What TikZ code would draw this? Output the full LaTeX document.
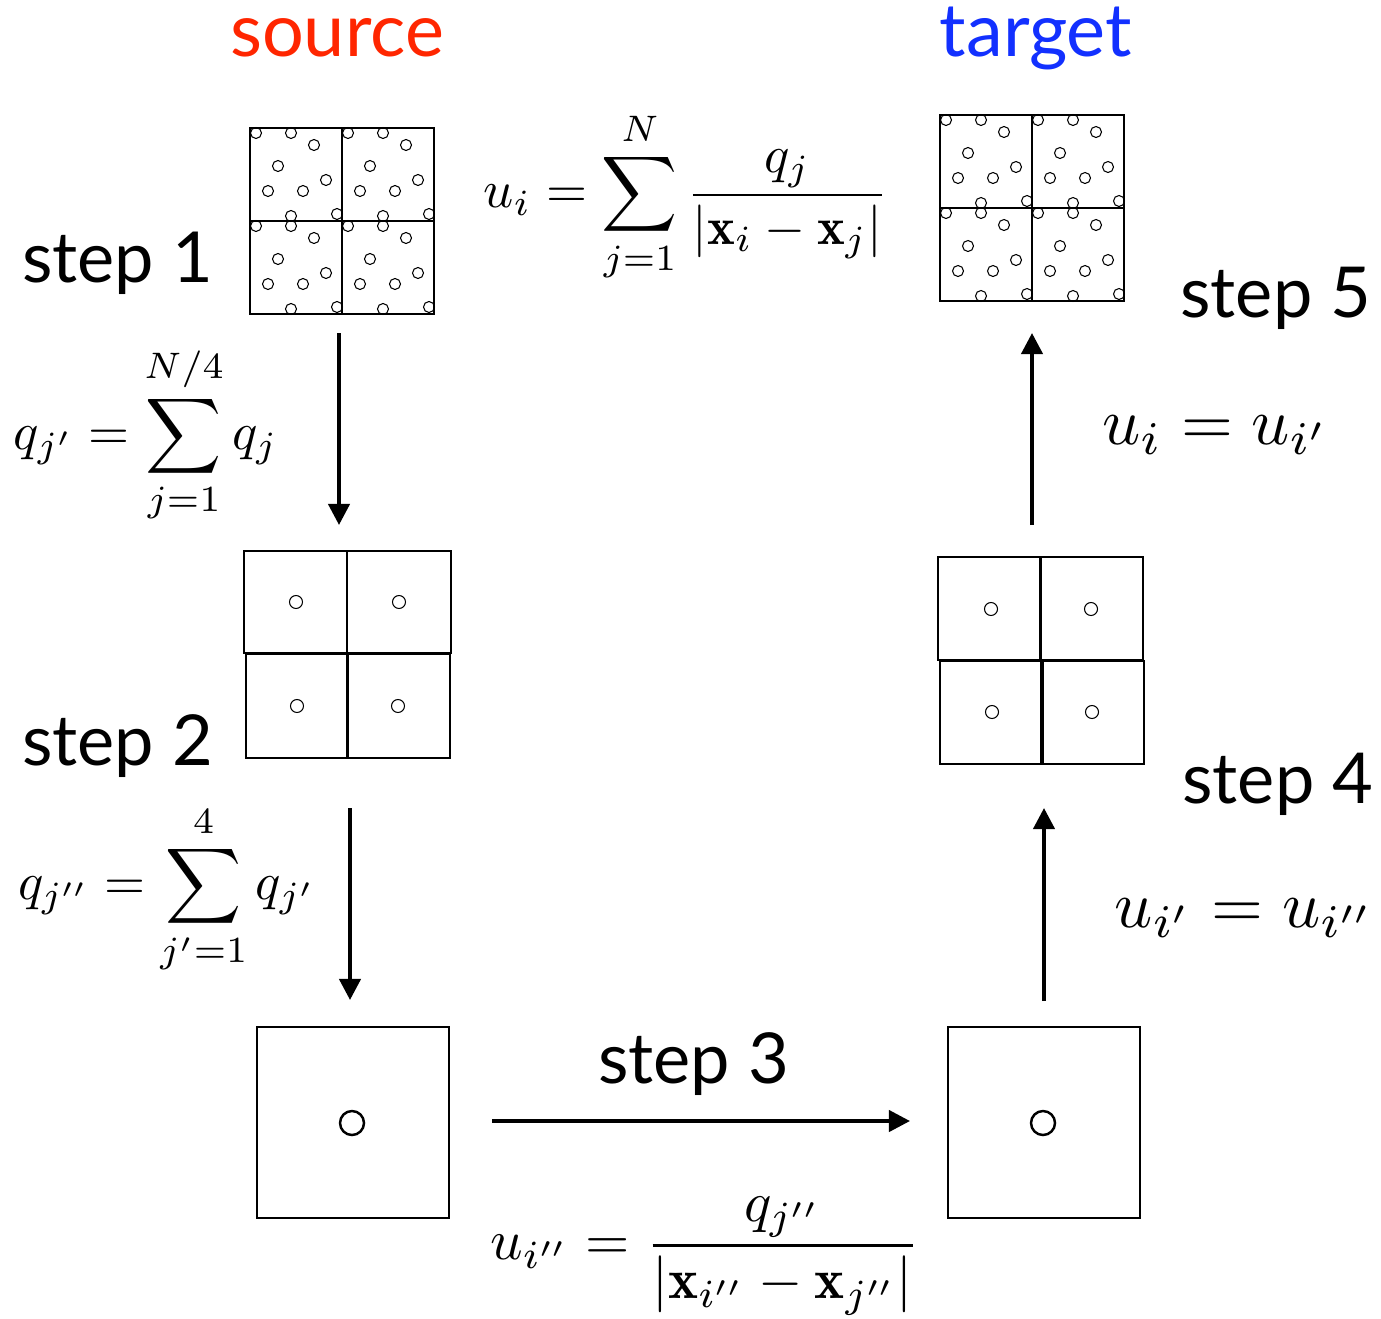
\documentclass[tikz,border=0pt]{standalone}
\usepackage{amsmath}
\usepackage{fontspec}
\newfontfamily\stepfont{Lato}
\usetikzlibrary{arrows.meta}
\definecolor{srcred}{RGB}{255,38,0}
\definecolor{tgtblue}{RGB}{18,48,255}
\tikzset{
  steplabel/.style={font=\stepfont\fontsize{40}{48}\selectfont, inner sep=0pt},
  headlabel/.style={font=\stepfont\fontsize{42}{50}\selectfont, inner sep=0pt},
  bigmath/.style={scale=3, inner sep=0pt},
  biggermath/.style={scale=3.8, inner sep=0pt},
  cell/.style={draw, line width=0.8pt},
  pt/.style={draw, line width=0.6pt},
  box/.style={draw, line width=1.4pt},
  flow/.style={line width=2.3pt, -{Triangle[length=12pt,width=12pt]}},
}
\begin{document}
\begin{tikzpicture}[x=0.02cm, y=-0.02cm]
\useasboundingbox (0,0) rectangle (1381,1318);

\node[headlabel, text=srcred, anchor=base] (src) at (337,57) {source};
\node[headlabel, text=tgtblue, anchor=base] (tgt) at (1036,57) {target};

\node[steplabel, anchor=base west] (s1) at (22,282) {step 1};
\node[steplabel, anchor=base west] (s2) at (22,765) {step 2};
\node[steplabel, anchor=base west] (s3) at (598,1083) {step 3};
\node[steplabel, anchor=base west] (s4) at (1182,803) {step 4};
\node[steplabel, anchor=base west] (s5) at (1180,317) {step 5};

\foreach \ox/\oy in {250/128, 342/128, 250/221, 342/221, 940/115, 1032/115, 940/208, 1032/208} {
  \draw[cell] (\ox,\oy) rectangle ++(92,93);
  \foreach \cx/\cy in {6/5, 41/5, 64/17, 28/38, 76/52, 18/63, 53/63, 41/88, 87/86}
    \draw[pt] (\ox+\cx,\oy+\cy) circle[radius=0.11cm];
}

\draw[cell] (244,551) rectangle (347,653);
\draw[cell] (347,551) rectangle (451,653);
\draw[cell] (246,654) rectangle (347,758);
\draw[cell] (348,654) rectangle (450,758);
\foreach \cx/\cy in {296/602, 399/602, 297/706, 398/706}
  \draw[pt] (\cx,\cy) circle[radius=0.13cm];

\draw[cell] (938,557) rectangle (1040,660);
\draw[cell] (1041,557) rectangle (1143,660);
\draw[cell] (940,661) rectangle (1041,764);
\draw[cell] (1043,661) rectangle (1144,764);
\foreach \cx/\cy in {991/609, 1091/609, 992/712, 1092/712}
  \draw[pt] (\cx,\cy) circle[radius=0.13cm];

\draw[box] (257,1027) rectangle (449,1218);
\draw[box] (352,1123) circle[radius=0.24cm];
\draw[box] (948,1027) rectangle (1140,1218);
\draw[box] (1043,1123) circle[radius=0.24cm];

\coordinate (a1s) at (339,333);
\coordinate (a1e) at (339,525);
\coordinate (a2s) at (350,808);
\coordinate (a2e) at (350,1000);
\coordinate (a3s) at (492,1121);
\coordinate (a3e) at (910,1121);
\coordinate (a4s) at (1044,1001);
\coordinate (a4e) at (1044,808);
\coordinate (a5s) at (1032,525);
\coordinate (a5e) at (1032,333);
\draw[flow] (a1s) -- (a1e);
\draw[flow] (a2s) -- (a2e);
\draw[flow] (a3s) -- (a3e);
\draw[flow] (a4s) -- (a4e);
\draw[flow] (a5s) -- (a5e);

\node[bigmath] (f1) at (686,197) {$\displaystyle u_i = \sum_{j=1}^{N}\frac{q_j}{|\mathbf{x}_i-\mathbf{x}_j|}$};
\node[bigmath] (f2) at (146,435) {$\displaystyle q_{j'} = \sum_{j=1}^{N/4} q_j$};
\node[bigmath] (f3) at (167,890) {$\displaystyle q_{j''} = \sum_{j'=1}^{4} q_{j'}$};
\node[bigmath, scale=1.08] (f4) at (705,1256) {$\displaystyle u_{i''} = \frac{q_{j''}}{|\mathbf{x}_{i''}-\mathbf{x}_{j''}|}$};
\node[biggermath] (f5) at (1216,435) {$u_i = u_{i'}$};
\node[biggermath] (f6) at (1245,918) {$u_{i'} = u_{i''}$};

\end{tikzpicture}
\end{document}
